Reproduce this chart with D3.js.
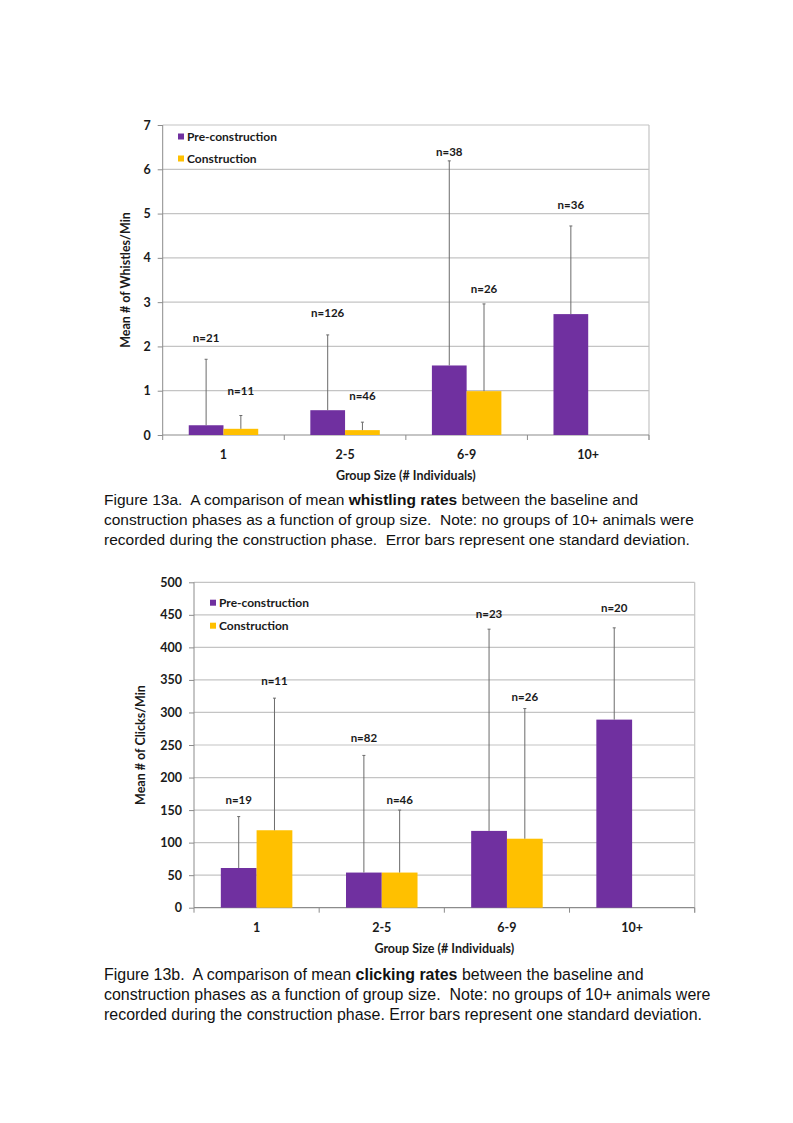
<!DOCTYPE html>
<html>
<head>
<meta charset="utf-8">
<script src="https://cdn.jsdelivr.net/npm/d3@7"></script>
<style>
  body { margin: 0; background: #fff; }
  svg { display: block; }
  .tick-lbl, .n-lbl, .axis-title, .legend-lbl { font-family: Lato, "Open Sans", sans-serif; font-weight: bold; fill: #1a1a1a; }
  .caption { font-family: "Liberation Sans", Arial, sans-serif; fill: #111; white-space: pre; }
</style>
</head>
<body>
<svg id="page" width="793" height="1123"></svg>
<script>
const groups = ["1", "2-5", "6-9", "10+"];
const seriesNames = ["Pre-construction", "Construction"];

// Figure 13a - whistles per minute
const whistlePre = [0.22, 0.56, 1.57, 2.73];
const whistlePreSd = [1.49, 1.70, 4.62, 1.99];
const whistleCons = [0.14, 0.11, 0.99, null];
const whistleConsSd = [0.30, 0.18, 1.97, null];
const whistlePreN = ["n=21", "n=126", "n=38", "n=36"];
const whistleConsN = ["n=11", "n=46", "n=26", null];
const whistlePreNAt = [2.2, 2.75, 6.4, 5.2];
const whistleConsNAt = [1.0, 0.88, 3.3, null];
const whistleTicks = [0, 1, 2, 3, 4, 5, 6, 7];

// Figure 13b - clicks per minute
const clickPre = [61, 54, 118, 289];
const clickPreSd = [79, 180, 310, 141];
const clickCons = [119, 54, 106, null];
const clickConsSd = [203, 96, 200, null];
const clickPreN = ["n=19", "n=82", "n=23", "n=20"];
const clickConsN = ["n=11", "n=46", "n=26", null];
const clickPreNAt = [166, 260, 451, 460];
const clickConsNAt = [348, 166, 324, null];
const clickTicks = [0, 50, 100, 150, 200, 250, 300, 350, 400, 450, 500];

const colors = ["#7030a0", "#ffc000"];

const svg = d3.select("#page");

function drawChart(opt) {
  const g = svg.append("g");
  const x = d3.scaleBand().domain(groups).range([opt.left, opt.right]).padding(0);
  const xs = d3.scaleBand().domain([0, 1]).range([0, x.bandwidth()]).paddingInner(0).paddingOuter(0.75);
  const y = d3.scaleLinear().domain([0, d3.max(opt.ticks)]).range([opt.bottom, opt.top]);

  // gridlines
  g.selectAll("line.grid").data(opt.ticks.slice(1)).join("line")
    .attr("x1", opt.left).attr("x2", opt.right)
    .attr("y1", d => y(d)).attr("y2", d => y(d))
    .attr("stroke", "#c4c4c4").attr("stroke-width", 1.2);
  // right border
  g.append("line").attr("x1", opt.right).attr("x2", opt.right)
    .attr("y1", opt.top).attr("y2", opt.bottom + 5)
    .attr("stroke", "#c4c4c4").attr("stroke-width", 1.2);

  // y axis
  const yAxis = d3.axisLeft(y).tickValues(opt.ticks).tickSize(5).tickPadding(7).tickFormat(d3.format("d"));
  const ya = g.append("g").attr("transform", `translate(${opt.left},0)`).call(yAxis);
  ya.select(".domain").attr("stroke", "#8c8c8c").attr("d", `M0,${opt.top}V${opt.bottom}`);
  ya.selectAll(".tick line").attr("stroke", "#8c8c8c");
  ya.selectAll(".tick text").attr("class", "tick-lbl").style("font-size", "12.5px").attr("fill", "#1a1a1a");

  // x axis with ticks at category boundaries
  const xa = g.append("g").attr("transform", `translate(0,${opt.bottom})`);
  xa.append("line").attr("x1", opt.left).attr("x2", opt.right).attr("stroke", "#8c8c8c").attr("stroke-width", 1.2);
  xa.selectAll("line.bound").data(groups.concat(["end"])).join("line")
    .attr("x1", d => d === "end" ? opt.right : x(d)).attr("x2", d => d === "end" ? opt.right : x(d))
    .attr("y1", 0).attr("y2", 5).attr("stroke", "#8c8c8c");
  xa.selectAll("text").data(groups).join("text")
    .attr("class", "tick-lbl").attr("x", d => x(d) + x.bandwidth() / 2).attr("y", 24)
    .attr("text-anchor", "middle").style("font-size", "12.5px").text(d => d);

  // bars, error bars, n labels
  const series = [
    { vals: opt.pre, sd: opt.preSd, n: opt.preN, nAt: opt.preNAt },
    { vals: opt.cons, sd: opt.consSd, n: opt.consN, nAt: opt.consNAt },
  ];
  series.forEach((s, si) => {
    const rows = groups.map((grp, i) => ({ grp, v: s.vals[i], sd: s.sd[i], n: s.n[i], nAt: s.nAt[i] }))
      .filter(d => d.v != null);
    const cx = d => x(d.grp) + xs(si) + xs.bandwidth() / 2;
    g.selectAll(`rect.s${si}`).data(rows).join("rect")
      .attr("x", d => x(d.grp) + xs(si)).attr("width", xs.bandwidth())
      .attr("y", d => y(d.v)).attr("height", d => y(0) - y(d.v))
      .attr("fill", colors[si]);
    g.selectAll(`line.err${si}`).data(rows).join("line")
      .attr("x1", cx).attr("x2", cx)
      .attr("y1", d => y(d.v)).attr("y2", d => y(d.v + d.sd))
      .attr("stroke", "#6b6b6b").attr("stroke-width", 1);
    g.selectAll(`line.cap${si}`).data(rows).join("line")
      .attr("x1", d => cx(d) - 1.5).attr("x2", d => cx(d) + 1.5)
      .attr("y1", d => y(d.v + d.sd)).attr("y2", d => y(d.v + d.sd))
      .attr("stroke", "#6b6b6b").attr("stroke-width", 1);
    g.selectAll(`text.n${si}`).data(rows).join("text")
      .attr("class", "n-lbl").attr("x", cx).attr("y", d => y(d.nAt) + 4)
      .attr("text-anchor", "middle").style("font-size", "11.5px").text(d => d.n);
  });

  // legend
  seriesNames.forEach((name, i) => {
    const ly = opt.legendY + i * opt.legendGap;
    g.append("rect").attr("x", opt.legendX).attr("y", ly - 3).attr("width", 6).attr("height", 6).attr("fill", colors[i]);
    g.append("text").attr("class", "legend-lbl").attr("x", opt.legendX + 9).attr("y", ly + 4)
      .style("font-size", "12px").text(name);
  });

  // axis titles
  g.append("text").attr("class", "axis-title")
    .attr("transform", `translate(${opt.yTitleX},${(opt.top + opt.bottom) / 2}) rotate(-90)`)
    .attr("text-anchor", "middle").style("font-size", "12.5px").text(opt.yTitle);
  g.append("text").attr("class", "axis-title")
    .attr("x", (opt.left + opt.right) / 2).attr("y", opt.bottom + 45)
    .attr("text-anchor", "middle").style("font-size", "12.5px").text("Group Size (# Individuals)");

  // caption
  const cap = g.append("text").attr("class", "caption").style("font-size", opt.captionSize + "px");
  opt.caption.forEach((line, i) => {
    const t = cap.append("tspan").attr("x", 104).attr("y", opt.captionY + i * 20);
    line.forEach(part => t.append("tspan").attr("font-weight", part.b ? "bold" : null).text(part.t));
  });
}

drawChart({
  left: 162.7, right: 649, top: 125, bottom: 435,
  ticks: whistleTicks,
  pre: whistlePre, preSd: whistlePreSd, preN: whistlePreN, preNAt: whistlePreNAt,
  cons: whistleCons, consSd: whistleConsSd, consN: whistleConsN, consNAt: whistleConsNAt,
  legendX: 178, legendY: 136.5, legendGap: 22,
  yTitle: "Mean # of Whistles/Min", yTitleX: 130,
  captionY: 505, captionSize: 15.5,
  caption: [
    [{ t: "Figure 13a.  A comparison of mean " }, { t: "whistling rates", b: true }, { t: " between the baseline and" }],
    [{ t: "construction phases as a function of group size.  Note: no groups of 10+ animals were" }],
    [{ t: "recorded during the construction phase.  Error bars represent one standard deviation." }],
  ],
});

drawChart({
  left: 194, right: 694.7, top: 582.3, bottom: 907.7,
  ticks: clickTicks,
  pre: clickPre, preSd: clickPreSd, preN: clickPreN, preNAt: clickPreNAt,
  cons: clickCons, consSd: clickConsSd, consN: clickConsN, consNAt: clickConsNAt,
  legendX: 210, legendY: 602.7, legendGap: 23,
  yTitle: "Mean # of Clicks/Min", yTitleX: 145,
  captionY: 980, captionSize: 15.95,
  caption: [
    [{ t: "Figure 13b.  A comparison of mean " }, { t: "clicking rates", b: true }, { t: " between the baseline and" }],
    [{ t: "construction phases as a function of group size.  Note: no groups of 10+ animals were" }],
    [{ t: "recorded during the construction phase. Error bars represent one standard deviation." }],
  ],
});
</script>
</body>
</html>
